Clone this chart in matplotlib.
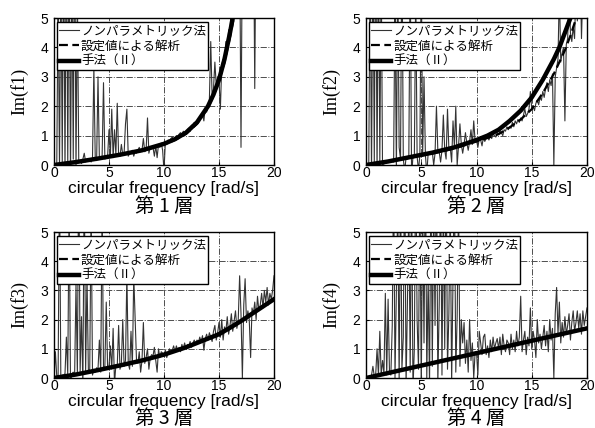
import numpy as np
import matplotlib
matplotlib.use('Agg')
import matplotlib.pyplot as plt

plt.rcParams['font.family'] = ['Liberation Sans', 'Noto Sans CJK JP']

# frequency grid of the nonparametric estimate [rad/s]
freq = np.arange(0, 20.0001, 0.125)

# nonparametric estimates (one row per 1 rad/s, 8 samples each)
np_f1 = [
    0, 0.05, -0.1, 6, -0.2, 7, 0.1, 8,
    -0.3, 9, 0.0, 8, -0.5, 7, 0.2, 9,
    -0.2, 6, 0.1, 0.15, 0.05, 0.2, 0.4, 0.1,
    0.18, 0.15, 0.2, 0.1, 0.25, 3.3, 0.2, 0.15,
    3.0, 0.2, 0.25, 0.3, 2.8, 0.2, 0.25, 0.3,
    1.2, 0.3, 1.9, 0.25, 1.2, 0.35, 2.1, 0.3,
    0.3, 0.7, 0.35, 0.4, 1.4, 1.9, 0.3, 0.4,
    0.45, 0.5, 0.3, 0.45, 0.4, 0.5, 0.6, 0.45,
    0.5, 0.9, 0.45, 0.5, 1.6, 0.4, 0.6, 0.55,
    0.6, 0.3, 0.65, 0.25, 0.7, 0.6, 0.75, 0.5,
    -0.2, 0.8, 0.7, 0.85, 0.8, 0.9, 0.95, 0.85,
    0.9, 1.0, 0.95, 1.05, 1.1, 1.0, 1.15, 1.1,
    1.1, 1.2, 1.25, 1.15, 1.35, 1.3, 1.45, 1.4,
    1.5, 1.45, 1.65, 1.6, 1.75, 1.5, 1.95, 1.8,
    2.0, 2.2, 4.2, 2.3, 2.6, 3.5, 2.7, 3.0,
    2.9, 1.9, 3.4, 3.6, 3.4, 4.2, 3.9, 4.6,
    4.5, 5.6, 4.8, 6, 5.5, 6, 7, 8,
    0.6, 8, 9, 7, 8, 9, 8, 7,
    8, 9, 2.6, 9, 8, 10, 9, 8,
    9, 10, 8, 9, 10, 9, 8, 10,
    9]
np_f2 = [
    0, 0.02, 0.05, 7, -0.5, 8, 0.1, 9,
    -0.3, 8, 0.1, 7, -0.4, 0.1, 0.1, 0.15,
    0.12, 0.1, 0.15, 0.12, 0.1, 6, -0.3, 7,
    0.6, 0.2, 8, 0.2, -0.2, 0.25, 0.2, 0.3,
    7, -0.4, 0.3, 0.28, 6, 0.3, -0.2, 0.35,
    7, 0.3, 3.0, 0.35, -0.3, 0.4, 0.38, 0.4,
    0.45, 0.0, 0.4, 2.0, 0.5, 0.45, 0.1, 0.5,
    1.7, 0.5, 0.2, 1.9, 0.55, 0.6, 0.1, 1.5,
    0.6, 2.0, 0.0, 0.65, 1.4, 0.7, 0.4, 0.7,
    1.1, 0.75, 0.5, 0.8, 1.2, 0.7, 1.5, 0.8,
    0.85, 0.6, 0.9, 0.85, 0.65, 0.95, 0.8, 0.9,
    0.95, 0.85, 1.0, 0.9, 1.05, 1.0, 0.95, 1.1,
    1.05, 1.15, 1.1, 1.0, 1.2, 1.15, 1.3, 1.2,
    1.3, 1.25, 1.45, 1.3, 1.5, 1.4, 1.55, 1.45,
    1.6, 1.5, 1.7, 1.9, 1.65, 1.75, 1.9, 2.5,
    1.9, 2.0, 1.85, 2.1, 2.2, 2.05, 2.3, 2.2,
    2.5, 2.3, 2.6, 2.8, 2.5, 2.9, 2.7, 3.1,
    0.0, 3.0, 3.3, 3.6, 6, 3.5, 3.8, 4.0,
    1.5, 4.1, 4.3, 6, 4.5, 4.2, 4.7, 4.3,
    6, 4.9, 6, 7, 4.3, 6, 7, 6,
    7]
np_f3 = [
    0, 0.9, 0.05, 0.1, 7, -0.3, 0.1, 0.1,
    0.15, 1.4, 0.1, 6, -0.2, 0.15, 0.2, 0.1,
    3.2, 0.1, 8, 0.2, 2.1, -0.3, 7, 0.2,
    3.5, 0.25, 0.3, 6, 0.1, 0.3, 0.2, 0.35,
    0.3, 1.3, 0.2, 6, 0.3, 0.4, 2.6, 0.3,
    0.4, 1.1, 0.3, 1.7, -0.2, 0.45, 0.4, 1.8,
    0.3, 0.5, 2.0, 0.4, 0.6, 3.6, 0.5, 0.3,
    1.6, 0.4, 3.5, 2.0, 0.6, 0.5, 0.9, 0.2,
    0.6, 1.9, 0.5, 0.7, 1.0, 0.3, 0.7, 0.8,
    0.75, 1.05, 0.6, 0.2, 1.0, 0.7, 0.9, 0.85,
    0.75, 0.95, 0.7, 0.85, 1.0, 0.85, 0.95, 1.1,
    0.9, 1.1, 0.95, 1.05, 0.9, 1.15, 1.0, 1.2,
    1.0, 1.15, 1.1, 1.25, 1.05, 1.2, 1.3, 1.15,
    1.3, 1.2, 1.4, 1.25, 1.45, 0.95, 1.35, 1.5,
    1.3, 1.55, 1.4, 1.25, 1.6, 1.8, 1.3, 1.55,
    1.9, 1.4, 2.0, 1.3, 1.75, 1.6, 2.1, 1.5,
    1.8, 2.2, 1.6, 1.95, 2.3, 1.7, 2.0, 3.5,
    2.2, 0.0, 2.5, 3.4, 1.9, 2.3, 2.0, 0.7,
    2.4, 2.2, 2.6, 2.0, 2.8, 2.3, 2.5, 2.9,
    2.4, 3.0, 2.6, 3.1, 2.5, 2.9, 2.7, 3.0,
    3.5]
np_f4 = [
    0, 0.02, 0.05, 0.03, 0.1, 0.4, 0.05, 0.1,
    1.0, 0.1, 1.6, 0.1, 0.6, 0.15, 2.9, 0.1,
    2.7, 0.2, 0.1, 1.8, 7, 0.0, 3.0, 6,
    -0.2, 7, 0.3, 1.4, 8, -0.3, 2.6, 6,
    0.2, 7, -0.4, 1.0, 8, 2.0, 0.3, 7,
    -0.5, 6, 1.2, 8, 0.0, 3.5, -0.3, 7,
    0.4, 6, 1.8, 8, -0.2, 2.5, 7, 0.1,
    6, 1.0, 8, 0.3, 2.2, 6, -0.2, 3.5,
    7, 0.2, 2.1, 6, 0.4, 2.0, 1.2, 1.9,
    0.5, 1.3, 0.2, 2.0, 0.6, 1.2, 0.0, 0.9,
    0.9, 0.1, 1.6, 1.2, 0.8, 1.4, 1.5, 0.8,
    1.1, 0.7, 1.3, 0.9, 1.4, 1.0, 1.2, 1.35,
    1.0, 1.4, 0.8, 1.5, 1.1, 0.9, 1.3, 1.2,
    0.8, 1.5, 1.0, 1.3, 0.9, 1.6, 1.1, 1.4,
    2.8, 0.9, 1.3, 1.6, 0.8, 1.4, 1.1, 2.4,
    1.0, 1.6, 1.3, 0.7, 2.0, 1.2, 1.5, 1.0,
    1.4, 1.8, 1.1, 1.6, 0.9, 2.0, 1.3, 1.7,
    0.0, 2.2, 3.1, 1.5, 2.6, 1.2, 1.9, 1.4,
    2.1, 1.5, 1.8, 2.2, 1.3, 1.9, 2.3, 1.6,
    1.9, 2.3, 1.7, 2.2, 1.5, 2.3, 1.8, 2.1,
    2.4]

# analysis with set values (dashed) and method II (solid), read at knots
set_x1 = [0, 2, 4, 6, 8, 10, 11, 12, 13, 14, 14.5, 15, 15.5, 16, 16.5]
set_y1 = [0, 0.1, 0.21, 0.34, 0.49, 0.7, 0.85, 1.06, 1.4, 1.95, 2.35, 2.85, 3.5, 4.35, 5.3]
m2_x1 = [0, 2, 4, 6, 8, 10, 11, 12, 13, 14, 14.5, 15, 15.5, 16, 16.4]
m2_y1 = [0, 0.1, 0.22, 0.35, 0.5, 0.72, 0.88, 1.1, 1.45, 2.0, 2.4, 2.9, 3.6, 4.5, 5.3]

set_x2 = [0, 2, 4, 6, 8, 10, 11, 12, 13, 14, 15, 16, 17, 18, 18.5, 19.2]
set_y2 = [0, 0.11, 0.25, 0.39, 0.56, 0.8, 0.92, 1.05, 1.28, 1.55, 1.9, 2.45, 3.1, 3.9, 4.4, 5.2]
m2_x2 = [0, 2, 4, 6, 8, 10, 11, 12, 13, 14, 15, 16, 17, 17.5, 18, 18.5, 18.9]
m2_y2 = [0, 0.12, 0.27, 0.42, 0.6, 0.85, 1.0, 1.2, 1.5, 1.85, 2.3, 2.9, 3.6, 4.0, 4.5, 5.0, 5.3]

set_x3 = [0, 2, 4, 6, 8, 10, 12, 14, 15, 16, 17, 18, 19, 20]
set_y3 = [0, 0.12, 0.27, 0.43, 0.6, 0.8, 1.05, 1.35, 1.52, 1.73, 1.95, 2.2, 2.45, 2.72]
m2_x3 = [0, 2, 4, 6, 8, 10, 12, 14, 15, 16, 17, 18, 19, 20]
m2_y3 = [0, 0.12, 0.27, 0.43, 0.6, 0.8, 1.05, 1.35, 1.5, 1.72, 1.95, 2.2, 2.45, 2.7]

set_x4 = [0, 10, 20]
set_y4 = [0, 0.86, 1.72]
m2_x4 = [0, 10, 20]
m2_y4 = [0, 0.85, 1.7]

ylabels = ['Im(f1)', 'Im(f2)', 'Im(f3)', 'Im(f4)']
captions = ['第 1 層', '第 2 層', '第 3 層', '第 4 層']
legend_labels = ['ノンパラメトリック法', '設定値による解析', '手法（Ⅱ）']

panels = [
    (np_f1, set_x1, set_y1, m2_x1, m2_y1),
    (np_f2, set_x2, set_y2, m2_x2, m2_y2),
    (np_f3, set_x3, set_y3, m2_x3, m2_y3),
    (np_f4, set_x4, set_y4, m2_x4, m2_y4),
]

fig = plt.figure(figsize=(5.95, 4.28), dpi=100)
W, H = 595.0, 428.0
# (left, top, right, bottom) in pixels
boxes = [(54, 18, 274, 165), (366, 18, 587, 165),
         (54, 232, 274, 378), (366, 232, 587, 378)]

for i, (box, pdata) in enumerate(zip(boxes, panels)):
    l, t, r, b = box
    ax = fig.add_axes([l / W, 1 - b / H, (r - l) / W, (b - t) / H])
    noise, sx, sy, mx, my = pdata
    ax.plot(freq, noise, color='0.2', lw=0.8, label=legend_labels[0])
    ax.plot(sx, sy, color='black', lw=1.6, ls=(0, (4, 2)), label=legend_labels[1])
    ax.plot(mx, my, color='black', lw=3.2, label=legend_labels[2])
    ax.set_xlim(0, 20)
    ax.set_ylim(0, 5)
    ax.set_xticks([0, 5, 10, 15, 20])
    ax.set_yticks([0, 1, 2, 3, 4, 5])
    ax.grid(True, color='0.3', ls='-.', lw=0.7)
    ax.tick_params(direction='in', length=2, labelsize=10)
    ax.tick_params(axis='x', pad=1)
    ax.tick_params(axis='y', pad=4)
    for s in ax.spines.values():
        s.set_linewidth(1.0)
    ax.set_xlabel('circular frequency [rad/s]', fontsize=12.5, labelpad=0.5)
    ax.set_ylabel(ylabels[i], fontsize=13, family='Liberation Serif', labelpad=9)
    leg = ax.legend(loc='upper left', bbox_to_anchor=(0.012, 0.972), borderaxespad=0,
                    prop={'family': 'Noto Sans CJK JP', 'size': 9},
                    handlelength=1.6, handletextpad=0.2, labelspacing=0.2,
                    borderpad=0.15, fancybox=False, framealpha=1, edgecolor='black')
    leg.get_frame().set_linewidth(1.0)
    cx = (l + r) / 2 / W
    fig.text(cx, 1 - (b + 41) / H, captions[i], ha='center', va='center',
             fontsize=14, family='Noto Sans CJK JP')

fig.savefig('out.png', dpi=100)
